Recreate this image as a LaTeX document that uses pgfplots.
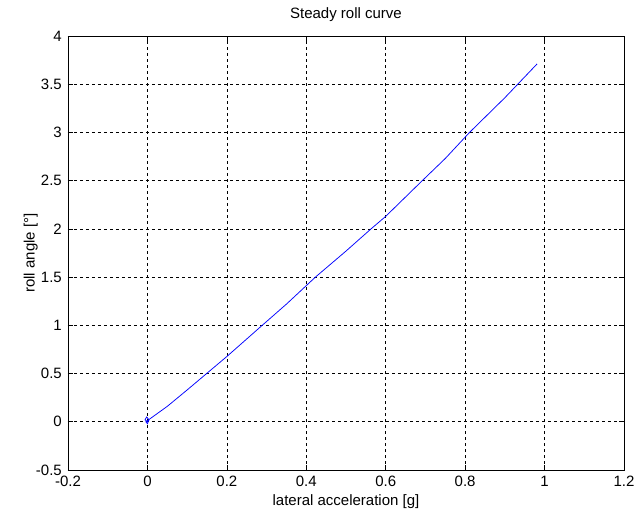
\documentclass[border=0pt]{standalone}
\usepackage{fontspec}
\setmainfont{Liberation Sans}
\usepackage{pgfplots}
\pgfplotsset{compat=1.18}
\begin{document}
\begin{tikzpicture}
\fontsize{15bp}{18bp}\selectfont
\useasboundingbox (-68bp,-48bp) rectangle (566bp,470bp);
\begin{axis}[
  at={(0,0)}, anchor=south west,
  scale only axis, width=556bp, height=434bp,
  xmin=-0.2, xmax=1.2, ymin=-0.5, ymax=4,
  xtick={-0.2,0,0.2,0.4,0.6,0.8,1,1.2},
  ytick={-0.5,0,0.5,1,1.5,2,2.5,3,3.5,4},
  xticklabels={-0.2,0,0.2,0.4,0.6,0.8,1,1.2},
  yticklabels={-0.5,0,0.5,1,1.5,2,2.5,3,3.5,4},
  tick align=inside, major tick length=5bp,
  tick style={black, line width=0.6bp},
  axis line style={black, line width=0.8bp},
  grid=major,
  major grid style={black, line width=0.6bp, dash pattern=on 3bp off 3bp},
  ticklabel style={font=\fontsize{15bp}{18bp}\selectfont},
  xticklabel style={yshift=-1bp},
  yticklabel style={xshift=-1bp},
  title={Steady roll curve},
  title style={font=\fontsize{15bp}{18bp}\selectfont, at={(0.5,1)}, anchor=south, yshift=3bp},
  xlabel={lateral acceleration [g]},
  ylabel={roll angle [°]},
  label style={font=\fontsize{15bp}{18bp}\selectfont},
  xlabel style={at={(0.5,0)}, anchor=north, yshift=-19bp},
  ylabel style={at={(axis description cs:0,0.5)}, anchor=south, yshift=25bp},
]
\addplot[color={rgb,255:red,0;green,0;blue,255}, line width=0.75bp] coordinates {
  (0,0) (-0.006,0.02) (-0.002,0.05) (0.004,0.02) (0.0,-0.02) (-0.004,0.0)
  (0.05,0.16) (0.1,0.33) (0.149,0.5) (0.2,0.677) (0.289,1) (0.35,1.22)
  (0.423,1.5) (0.5,1.77) (0.563,2) (0.6,2.13) (0.692,2.5) (0.75,2.73)
  (0.811,3) (0.9,3.36) (0.981,3.71)
};
\end{axis}
\end{tikzpicture}
\end{document}
